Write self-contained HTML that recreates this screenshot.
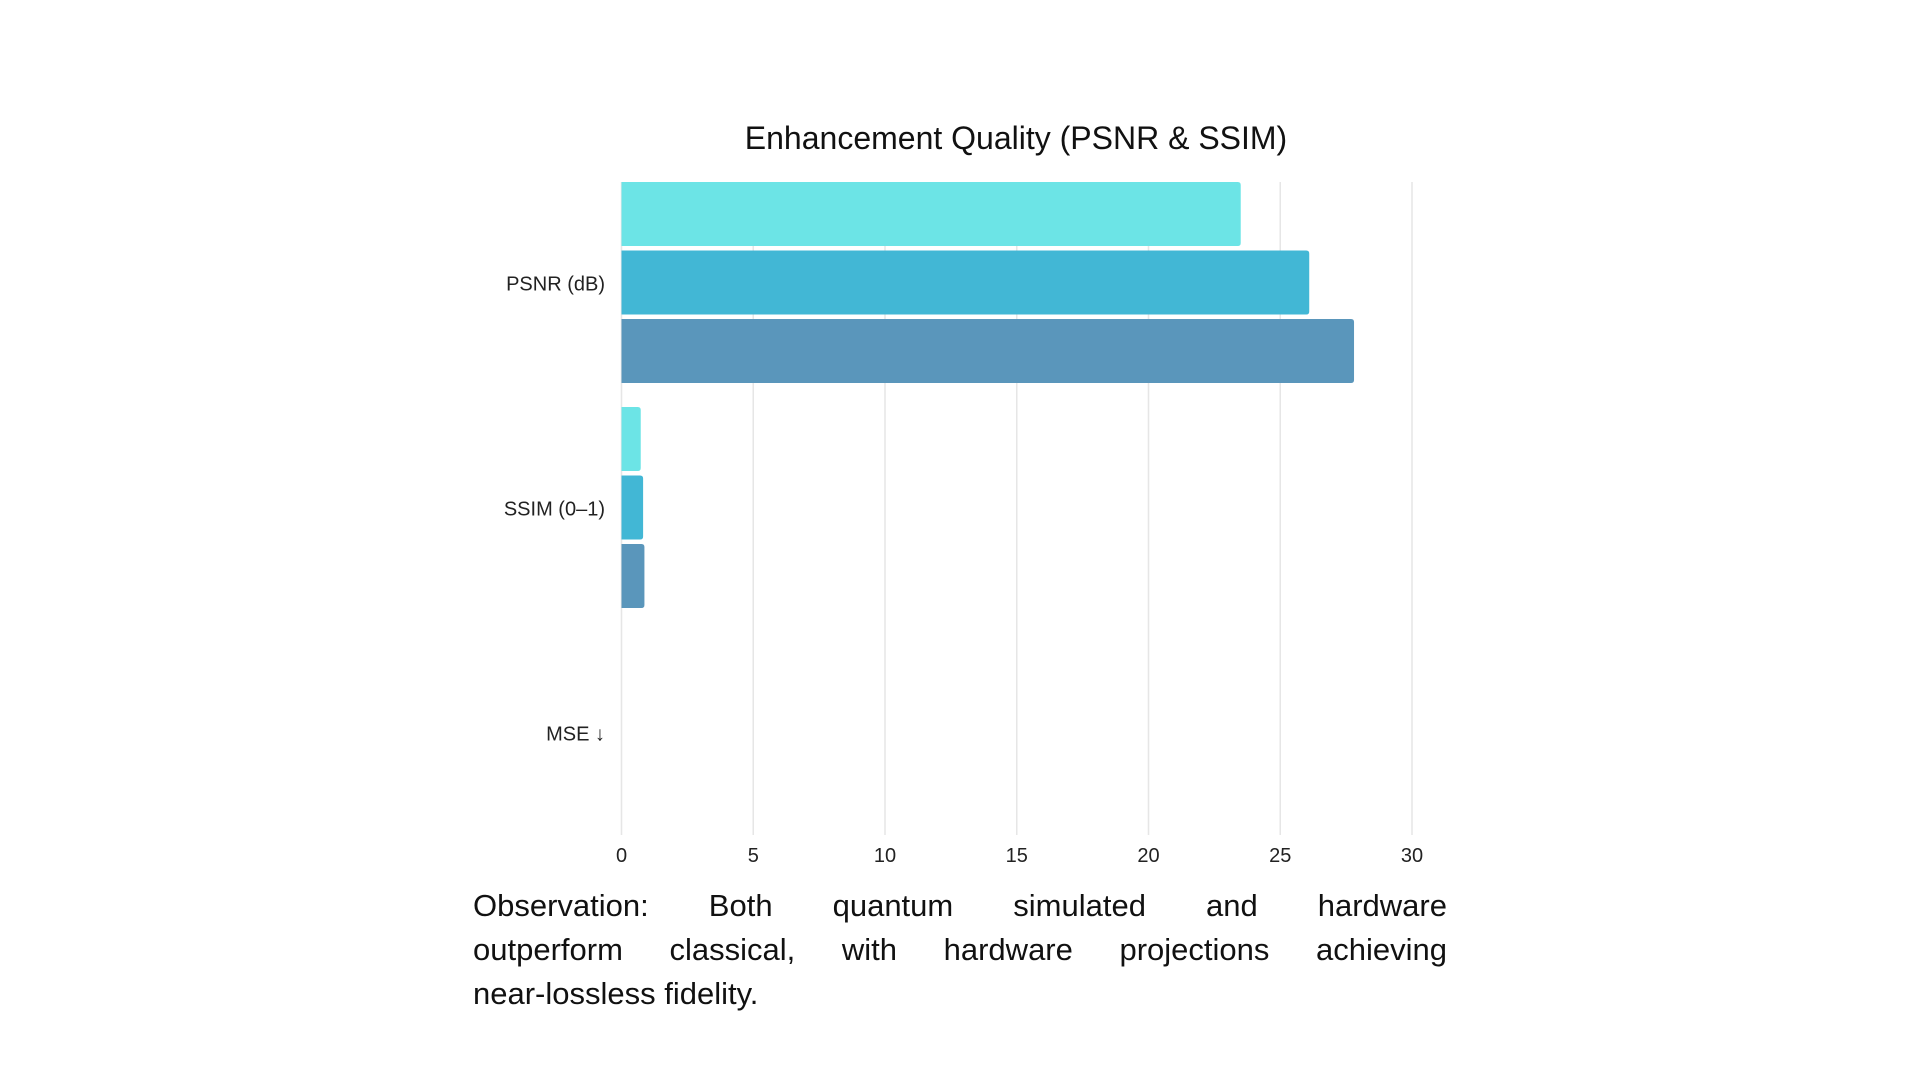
<!DOCTYPE html>
<html><head><meta charset="utf-8"><style>
html,body{margin:0;padding:0;background:#fff;width:1920px;height:1080px;overflow:hidden;font-family:"Liberation Sans",sans-serif;}
#obs{position:absolute;left:473px;top:884px;width:974px;font-size:31px;color:#111;line-height:44px;}
#obs div{text-align:justify;text-align-last:justify;white-space:nowrap;}
#obs div.last{text-align-last:left;}
</style></head><body>
<svg id="chart" width="1920" height="880" style="position:absolute;left:0;top:0">
<text x="1016" y="149" text-anchor="middle" font-size="32" fill="#111" font-family="Liberation Sans, sans-serif">Enhancement Quality (PSNR &amp; SSIM)</text>
<g id="grid"></g><g id="bars"></g><g id="labels"></g>
</svg>
<div id="obs">
<div>Observation: Both quantum simulated and hardware</div>
<div>outperform classical, with hardware projections achieving</div>
<div class="last">near-lossless fidelity.</div>
</div>
<script>
const categories = ["PSNR (dB)", "SSIM (0\u20131)", "MSE \u2193"];
const seriesNames = ["classical", "quantum-simulated", "quantum-hardware"];
const classical = [23.5, 0.73, 0];
const simulated = [26.1, 0.82, 0];
const hardware = [27.8, 0.87, 0];
const ticks = [0, 5, 10, 15, 20, 25, 30];
const colors = ["#6ce4e6", "#42b7d5", "#5a96bb"];
const series = [classical, simulated, hardware];
const NS = "http://www.w3.org/2000/svg";
const x0 = 621.5, x1 = 1412, xMax = 30, plotTop = 171, bandH = 225;
const xs = v => x0 + (v / xMax) * (x1 - x0);
const bandY = i => plotTop + i * bandH;
const grid = document.getElementById('grid'), bars = document.getElementById('bars'), labels = document.getElementById('labels');
ticks.forEach(t => {
  const l = document.createElementNS(NS, 'line');
  l.setAttribute('x1', xs(t)); l.setAttribute('x2', xs(t));
  l.setAttribute('y1', 182); l.setAttribute('y2', 835);
  l.setAttribute('stroke', '#e6e6e6'); l.setAttribute('stroke-width', '1.5');
  
  
  grid.appendChild(l);
  const tx = document.createElementNS(NS, 'text');
  tx.setAttribute('x', xs(t)); tx.setAttribute('y', 862);
  tx.setAttribute('text-anchor', 'middle'); tx.setAttribute('font-size', '20'); tx.setAttribute('fill', '#222');
  tx.textContent = t;
  
  
  labels.appendChild(tx);
});
categories.forEach((c, i) => {
  const tx = document.createElementNS(NS, 'text');
  tx.setAttribute('x', 605); tx.setAttribute('y', bandY(i) + bandH / 2 + 7);
  tx.setAttribute('text-anchor', 'end'); tx.setAttribute('font-size', '20'); tx.setAttribute('fill', '#222');
  tx.textContent = c;
  
  
  labels.appendChild(tx);
  series.forEach((s, j) => {
    const v = s[i];
    if (v <= 0) return;
    const w = xs(v) - x0, y = bandY(i) + 11 + j * 68.5, h = 64, r = Math.min(3, w / 2);
    const p = document.createElementNS(NS, 'path');
    p.setAttribute('d', `M${x0},${y} H${x0 + w - r} Q${x0 + w},${y} ${x0 + w},${y + r} V${y + h - r} Q${x0 + w},${y + h} ${x0 + w - r},${y + h} H${x0} Z`);
    p.setAttribute('fill', colors[j]);
    
    
    bars.appendChild(p);
  });
});
</script>
</body></html>
